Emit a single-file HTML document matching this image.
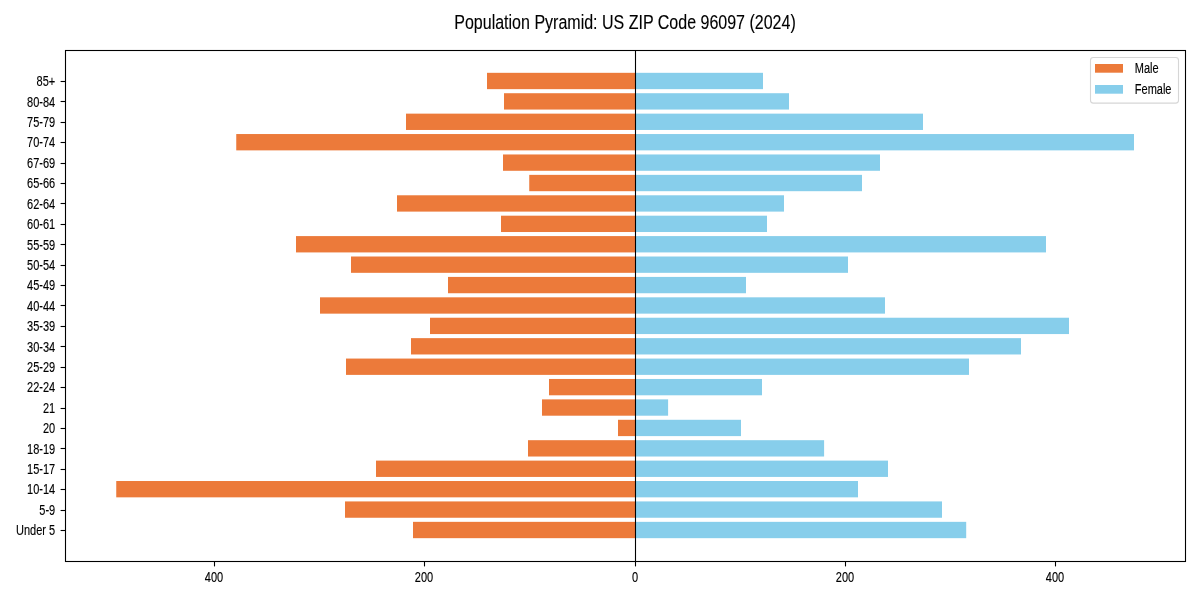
<!DOCTYPE html>
<html><head><meta charset="utf-8"><style>
html,body{margin:0;padding:0;background:#fff;width:1200px;height:600px;overflow:hidden}
svg{display:block;will-change:transform}
.t{font-family:"Liberation Sans",sans-serif;font-size:15.5px;fill:#000;stroke:#000;stroke-width:0.15px}
.ti{font-family:"Liberation Sans",sans-serif;font-size:19.44px;fill:#000;stroke:#000;stroke-width:0.12px}
</style></head><body>
<svg width="1200" height="600" viewBox="0 0 1200 600">
<rect width="1200" height="600" fill="#fff"/>
<rect x="413" y="521.84" width="222.50" height="16.33" fill="#EC7A3A"/>
<rect x="635.5" y="521.84" width="330.70" height="16.33" fill="#87CEEB"/>
<rect x="345" y="501.42" width="290.50" height="16.33" fill="#EC7A3A"/>
<rect x="635.5" y="501.42" width="306.50" height="16.33" fill="#87CEEB"/>
<rect x="116.25" y="481.01" width="519.25" height="16.33" fill="#EC7A3A"/>
<rect x="635.5" y="481.01" width="222.50" height="16.33" fill="#87CEEB"/>
<rect x="376" y="460.6" width="259.50" height="16.33" fill="#EC7A3A"/>
<rect x="635.5" y="460.6" width="252.50" height="16.33" fill="#87CEEB"/>
<rect x="528" y="440.19" width="107.50" height="16.33" fill="#EC7A3A"/>
<rect x="635.5" y="440.19" width="188.60" height="16.33" fill="#87CEEB"/>
<rect x="618" y="419.78" width="17.50" height="16.33" fill="#EC7A3A"/>
<rect x="635.5" y="419.78" width="105.50" height="16.33" fill="#87CEEB"/>
<rect x="542" y="399.37" width="93.50" height="16.33" fill="#EC7A3A"/>
<rect x="635.5" y="399.37" width="32.60" height="16.33" fill="#87CEEB"/>
<rect x="549" y="378.96" width="86.50" height="16.33" fill="#EC7A3A"/>
<rect x="635.5" y="378.96" width="126.50" height="16.33" fill="#87CEEB"/>
<rect x="346" y="358.56" width="289.50" height="16.33" fill="#EC7A3A"/>
<rect x="635.5" y="358.56" width="333.50" height="16.33" fill="#87CEEB"/>
<rect x="411" y="338.14" width="224.50" height="16.33" fill="#EC7A3A"/>
<rect x="635.5" y="338.14" width="385.50" height="16.33" fill="#87CEEB"/>
<rect x="430" y="317.73" width="205.50" height="16.33" fill="#EC7A3A"/>
<rect x="635.5" y="317.73" width="433.50" height="16.33" fill="#87CEEB"/>
<rect x="320" y="297.32" width="315.50" height="16.33" fill="#EC7A3A"/>
<rect x="635.5" y="297.32" width="249.50" height="16.33" fill="#87CEEB"/>
<rect x="448" y="276.91" width="187.50" height="16.33" fill="#EC7A3A"/>
<rect x="635.5" y="276.91" width="110.50" height="16.33" fill="#87CEEB"/>
<rect x="351" y="256.5" width="284.50" height="16.33" fill="#EC7A3A"/>
<rect x="635.5" y="256.5" width="212.50" height="16.33" fill="#87CEEB"/>
<rect x="296" y="236.09" width="339.50" height="16.33" fill="#EC7A3A"/>
<rect x="635.5" y="236.09" width="410.50" height="16.33" fill="#87CEEB"/>
<rect x="501" y="215.69" width="134.50" height="16.33" fill="#EC7A3A"/>
<rect x="635.5" y="215.69" width="131.50" height="16.33" fill="#87CEEB"/>
<rect x="397" y="195.28" width="238.50" height="16.33" fill="#EC7A3A"/>
<rect x="635.5" y="195.28" width="148.50" height="16.33" fill="#87CEEB"/>
<rect x="529.25" y="174.86" width="106.25" height="16.33" fill="#EC7A3A"/>
<rect x="635.5" y="174.86" width="226.50" height="16.33" fill="#87CEEB"/>
<rect x="503" y="154.46" width="132.50" height="16.33" fill="#EC7A3A"/>
<rect x="635.5" y="154.46" width="244.50" height="16.33" fill="#87CEEB"/>
<rect x="236.25" y="134.04" width="399.25" height="16.33" fill="#EC7A3A"/>
<rect x="635.5" y="134.04" width="498.50" height="16.33" fill="#87CEEB"/>
<rect x="406" y="113.64" width="229.50" height="16.33" fill="#EC7A3A"/>
<rect x="635.5" y="113.64" width="287.50" height="16.33" fill="#87CEEB"/>
<rect x="504" y="93.22" width="131.50" height="16.33" fill="#EC7A3A"/>
<rect x="635.5" y="93.22" width="153.50" height="16.33" fill="#87CEEB"/>
<rect x="487" y="72.82" width="148.50" height="16.33" fill="#EC7A3A"/>
<rect x="635.5" y="72.82" width="127.50" height="16.33" fill="#87CEEB"/>
<line x1="635.5" y1="50.5" x2="635.5" y2="561.5" stroke="#000" stroke-width="1.1"/>
<rect x="65.5" y="50.5" width="1120" height="511" fill="none" stroke="#000" stroke-width="1.1"/>
<line x1="60.6" y1="530.5" x2="65.5" y2="530.5" stroke="#000" stroke-width="1.1"/><text transform="translate(55.2 535.25) scale(0.71 1)" text-anchor="end" class="t">Under 5</text><line x1="60.6" y1="510.5" x2="65.5" y2="510.5" stroke="#000" stroke-width="1.1"/><text transform="translate(55.2 514.84) scale(0.71 1)" text-anchor="end" class="t">5-9</text><line x1="60.6" y1="489.5" x2="65.5" y2="489.5" stroke="#000" stroke-width="1.1"/><text transform="translate(55.2 494.43) scale(0.71 1)" text-anchor="end" class="t">10-14</text><line x1="60.6" y1="469.5" x2="65.5" y2="469.5" stroke="#000" stroke-width="1.1"/><text transform="translate(55.2 474.02) scale(0.71 1)" text-anchor="end" class="t">15-17</text><line x1="60.6" y1="448.5" x2="65.5" y2="448.5" stroke="#000" stroke-width="1.1"/><text transform="translate(55.2 453.61) scale(0.71 1)" text-anchor="end" class="t">18-19</text><line x1="60.6" y1="428.5" x2="65.5" y2="428.5" stroke="#000" stroke-width="1.1"/><text transform="translate(55.2 433.20) scale(0.71 1)" text-anchor="end" class="t">20</text><line x1="60.6" y1="408.5" x2="65.5" y2="408.5" stroke="#000" stroke-width="1.1"/><text transform="translate(55.2 412.79) scale(0.71 1)" text-anchor="end" class="t">21</text><line x1="60.6" y1="387.5" x2="65.5" y2="387.5" stroke="#000" stroke-width="1.1"/><text transform="translate(55.2 392.38) scale(0.71 1)" text-anchor="end" class="t">22-24</text><line x1="60.6" y1="367.5" x2="65.5" y2="367.5" stroke="#000" stroke-width="1.1"/><text transform="translate(55.2 371.97) scale(0.71 1)" text-anchor="end" class="t">25-29</text><line x1="60.6" y1="346.5" x2="65.5" y2="346.5" stroke="#000" stroke-width="1.1"/><text transform="translate(55.2 351.56) scale(0.71 1)" text-anchor="end" class="t">30-34</text><line x1="60.6" y1="326.5" x2="65.5" y2="326.5" stroke="#000" stroke-width="1.1"/><text transform="translate(55.2 331.15) scale(0.71 1)" text-anchor="end" class="t">35-39</text><line x1="60.6" y1="305.5" x2="65.5" y2="305.5" stroke="#000" stroke-width="1.1"/><text transform="translate(55.2 310.74) scale(0.71 1)" text-anchor="end" class="t">40-44</text><line x1="60.6" y1="285.5" x2="65.5" y2="285.5" stroke="#000" stroke-width="1.1"/><text transform="translate(55.2 290.33) scale(0.71 1)" text-anchor="end" class="t">45-49</text><line x1="60.6" y1="265.5" x2="65.5" y2="265.5" stroke="#000" stroke-width="1.1"/><text transform="translate(55.2 269.92) scale(0.71 1)" text-anchor="end" class="t">50-54</text><line x1="60.6" y1="244.5" x2="65.5" y2="244.5" stroke="#000" stroke-width="1.1"/><text transform="translate(55.2 249.51) scale(0.71 1)" text-anchor="end" class="t">55-59</text><line x1="60.6" y1="224.5" x2="65.5" y2="224.5" stroke="#000" stroke-width="1.1"/><text transform="translate(55.2 229.10) scale(0.71 1)" text-anchor="end" class="t">60-61</text><line x1="60.6" y1="203.5" x2="65.5" y2="203.5" stroke="#000" stroke-width="1.1"/><text transform="translate(55.2 208.69) scale(0.71 1)" text-anchor="end" class="t">62-64</text><line x1="60.6" y1="183.5" x2="65.5" y2="183.5" stroke="#000" stroke-width="1.1"/><text transform="translate(55.2 188.28) scale(0.71 1)" text-anchor="end" class="t">65-66</text><line x1="60.6" y1="163.5" x2="65.5" y2="163.5" stroke="#000" stroke-width="1.1"/><text transform="translate(55.2 167.87) scale(0.71 1)" text-anchor="end" class="t">67-69</text><line x1="60.6" y1="142.5" x2="65.5" y2="142.5" stroke="#000" stroke-width="1.1"/><text transform="translate(55.2 147.46) scale(0.71 1)" text-anchor="end" class="t">70-74</text><line x1="60.6" y1="122.5" x2="65.5" y2="122.5" stroke="#000" stroke-width="1.1"/><text transform="translate(55.2 127.05) scale(0.71 1)" text-anchor="end" class="t">75-79</text><line x1="60.6" y1="101.5" x2="65.5" y2="101.5" stroke="#000" stroke-width="1.1"/><text transform="translate(55.2 106.64) scale(0.71 1)" text-anchor="end" class="t">80-84</text><line x1="60.6" y1="81.5" x2="65.5" y2="81.5" stroke="#000" stroke-width="1.1"/><text transform="translate(55.2 86.23) scale(0.71 1)" text-anchor="end" class="t">85+</text>
<line x1="214.5" y1="561.5" x2="214.5" y2="566.4" stroke="#000" stroke-width="1.1"/><text transform="translate(214.0 581.8) scale(0.71 1)" text-anchor="middle" class="t">400</text><line x1="424.5" y1="561.5" x2="424.5" y2="566.4" stroke="#000" stroke-width="1.1"/><text transform="translate(424.0 581.8) scale(0.71 1)" text-anchor="middle" class="t">200</text><line x1="635.5" y1="561.5" x2="635.5" y2="566.4" stroke="#000" stroke-width="1.1"/><text transform="translate(635.0 581.8) scale(0.71 1)" text-anchor="middle" class="t">0</text><line x1="845.5" y1="561.5" x2="845.5" y2="566.4" stroke="#000" stroke-width="1.1"/><text transform="translate(845.0 581.8) scale(0.71 1)" text-anchor="middle" class="t">200</text><line x1="1055.5" y1="561.5" x2="1055.5" y2="566.4" stroke="#000" stroke-width="1.1"/><text transform="translate(1055.0 581.8) scale(0.71 1)" text-anchor="middle" class="t">400</text>
<text transform="translate(625.0 28.7) scale(0.8245 1)" text-anchor="middle" class="ti">Population Pyramid: US ZIP Code 96097 (2024)</text>
<rect x="1090.5" y="57.5" width="88" height="45.6" rx="2.8" ry="2.8" fill="#fff" fill-opacity="0.8" stroke="#d6d6d6" stroke-width="1.1"/>
<rect x="1095" y="64" width="28" height="8.7" fill="#EC7A3A"/>
<rect x="1095" y="85" width="28" height="8.7" fill="#87CEEB"/>
<text transform="translate(1134.8 72.7) scale(0.71 1)" class="t">Male</text>
<text transform="translate(1134.8 93.7) scale(0.71 1)" class="t">Female</text>
</svg>
</body></html>
